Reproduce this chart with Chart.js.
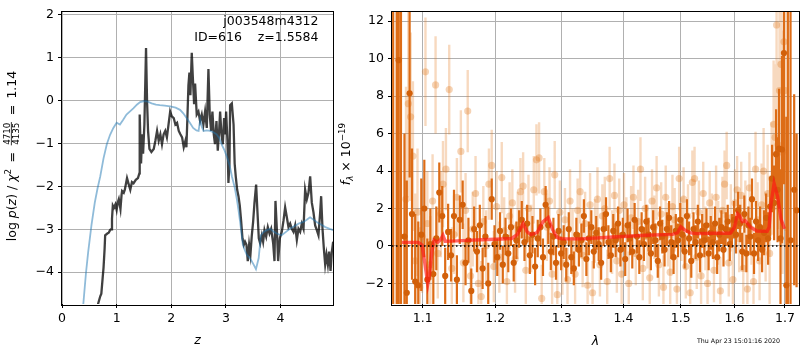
<!DOCTYPE html>
<html>
<head>
<meta charset="utf-8">
<script src="https://cdn.jsdelivr.net/npm/chart.js@4.4.1/dist/chart.umd.min.js"></script>
<style>
  body { margin: 0; background: #fff; }
  #wrap { position: relative; width: 800px; height: 350px; }
  #wrap canvas { position: absolute; left: 0; top: 0; }
</style>
</head>
<body>
<div id="wrap">
  <canvas id="pz" width="800" height="350"></canvas>
  <canvas id="spec" width="800" height="350"></canvas>
</div>
<script>
// ---- redshift probability, left panel ----
const PZ_Z = [0.62, 0.66, 0.70, 0.72, 0.745, 0.76, 0.78, 0.79, 0.83, 0.855, 0.88, 0.90, 0.915, 0.93, 0.95, 0.977,
  1.00, 1.02, 1.04, 1.07, 1.09, 1.10, 1.13, 1.15, 1.19, 1.22, 1.25, 1.28, 1.31, 1.35, 1.39, 1.416, 1.422, 1.447,
  1.465, 1.484, 1.508, 1.538, 1.557, 1.575, 1.60, 1.636, 1.679, 1.709, 1.74, 1.77, 1.80, 1.83, 1.86, 1.89, 1.92,
  1.95, 1.98, 2.01, 2.045, 2.075, 2.106, 2.137, 2.167, 2.198, 2.228, 2.259, 2.277, 2.295, 2.314, 2.332, 2.35,
  2.375, 2.393, 2.418, 2.436, 2.466, 2.497, 2.527, 2.558, 2.588, 2.619, 2.65, 2.68, 2.704, 2.729, 2.753, 2.778,
  2.80, 2.827, 2.851, 2.876, 2.894, 2.918, 2.943, 2.967, 2.986, 3.004, 3.028, 3.046, 3.065, 3.077, 3.108, 3.14,
  3.16, 3.18, 3.206, 3.23, 3.254, 3.28, 3.303, 3.328, 3.35, 3.376, 3.40, 3.425, 3.449, 3.474, 3.498, 3.523,
  3.553, 3.578, 3.602, 3.627, 3.657, 3.681, 3.706, 3.737, 3.767, 3.798, 3.828, 3.865, 3.889, 3.907, 3.932,
  3.956, 3.987, 4.023, 4.054, 4.084, 4.115, 4.145, 4.176, 4.206, 4.237, 4.267, 4.298, 4.328, 4.359, 4.389,
  4.42, 4.45, 4.481, 4.511, 4.542, 4.572, 4.603, 4.633, 4.664, 4.694, 4.725, 4.743, 4.768, 4.792, 4.817,
  4.841, 4.866, 4.89, 4.915, 4.939, 4.963, 4.99];
const PZ_LOGP = [-5.4, -4.74, -4.56, -4.50, -4.12, -3.90, -3.45, -3.14, -3.10, -3.08, -3.02, -3.00, -2.76, -2.45, -2.50, -2.42,
  -2.55, -2.38, -2.30, -2.53, -2.20, -2.11, -2.15, -2.08, -1.81, -1.95, -2.08, -1.90, -1.93, -1.85, -1.81, -1.70, -0.33, -1.47,
  -0.79, -1.24, -0.56, 1.22, -0.03, -0.71, -1.13, -1.20, -1.13, -0.94, -0.71, -0.94, -0.79, -1.02, -0.79, -0.71, -0.86,
  -0.56, -0.26, -0.37, -0.41, -0.56, -0.52, -0.71, -0.79, -0.86, -1.09, -0.94, -1.09, -0.41, 0.35, 0.65, 0.12,
  1.11, 0.58, -0.09, 0.39, -0.33, -0.26, -0.48, -0.33, -0.56, -0.26, -0.64, 0.73, -0.33, -0.71, -0.26, -0.79,
  -1.02, -0.48, -1.17, -0.71, -0.26, -0.79, -1.02, -0.41, -0.79, -0.26, -0.94, -1.92, -1.47, -0.11, -0.07, -0.56,
  -1.47, -1.77, -2.08, -2.23, -2.45, -2.83, -3.21, -3.36, -3.29, -3.36, -3.74, -3.36, -3.59, -3.14, -2.83, -2.38,
  -1.96, -2.61, -3.21, -3.33, -3.14, -3.29, -3.02, -3.17, -2.95, -3.10, -2.99, -3.33, -3.74, -2.34, -2.99,
  -3.74, -3.21, -3.06, -2.80, -2.49, -2.72, -2.95, -2.87, -2.99, -3.06, -2.91, -3.25, -2.99, -3.06, -2.87,
  -2.99, -2.08, -2.30, -2.15, -1.77, -2.38, -2.61, -2.91, -3.02, -3.14, -2.61, -2.23, -2.99, -3.44, -3.82,
  -3.59, -3.82, -3.52, -3.97, -3.52, -3.29, -3.21];

const SMOOTH_Z = [0.36, 0.39, 0.44, 0.48, 0.54, 0.60, 0.65, 0.70, 0.76, 0.82, 0.88, 0.94, 1.00, 1.06, 1.12, 1.18, 1.25,
  1.31, 1.37, 1.43, 1.49, 1.55, 1.64, 1.72, 1.79, 1.88, 1.98, 2.08, 2.16, 2.22, 2.28, 2.34, 2.40, 2.46, 2.50, 2.53,
  2.56, 2.59, 2.65, 2.71, 2.77, 2.83, 2.88, 2.92, 2.97, 3.02, 3.07, 3.11, 3.16, 3.20, 3.23, 3.26, 3.29, 3.31, 3.35,
  3.38, 3.43, 3.47, 3.51, 3.55, 3.60, 3.64, 3.69, 3.75, 3.81, 3.87, 3.93, 4.02, 4.10, 4.17, 4.25, 4.33, 4.42, 4.48,
  4.54, 4.60, 4.66, 4.74, 4.82, 4.90, 4.97];
const SMOOTH_LOGP = [-5.3, -4.74, -4.0, -3.52, -2.9, -2.38, -2.05, -1.77, -1.35, -1.02, -0.80, -0.64, -0.52, -0.56, -0.45,
  -0.33, -0.25, -0.18, -0.10, -0.04, -0.02, -0.02, -0.07, -0.10, -0.11, -0.12, -0.14, -0.17, -0.22, -0.30, -0.41, -0.52,
  -0.64, -0.70, -0.71, -0.44, -0.62, -0.71, -0.70, -0.71, -0.74, -0.79, -0.88, -1.02, -1.15, -1.32, -1.52, -1.77, -2.02,
  -2.30, -2.55, -2.83, -3.15, -3.36, -3.50, -3.59, -3.66, -3.74, -3.83, -3.93, -3.67, -3.14, -3.06, -3.02, -2.99, -3.05,
  -3.10, -3.14, -3.06, -2.99, -2.93, -2.87, -2.83, -2.78, -2.72, -2.77, -2.83, -2.89, -2.95, -2.99, -3.02];

const Z_TICKS = [0, 1, 2, 3, 4];
const LOGP_TICKS = [-4, -3, -2, -1, 0, 1, 2];

// ---- 1D spectrum, right panel ----
const BIN_WAVE = [1.0615, 1.066, 1.0685, 1.0715, 1.076, 1.079, 1.0827, 1.0858,
  1.090, 1.094, 1.098, 1.102, 1.106, 1.110, 1.114, 1.118, 1.122, 1.126, 1.130, 1.134, 1.138, 1.142, 1.146, 1.150,
  1.154, 1.158, 1.162, 1.166, 1.170, 1.174, 1.178, 1.182, 1.186, 1.190, 1.195, 1.199, 1.203, 1.207, 1.211, 1.215,
  1.219, 1.223, 1.227, 1.231, 1.235, 1.239, 1.243, 1.247, 1.251, 1.255, 1.259, 1.263, 1.267, 1.271, 1.275, 1.279,
  1.283, 1.287, 1.291, 1.295, 1.299, 1.303, 1.307, 1.311, 1.315, 1.319, 1.323, 1.327, 1.331, 1.335, 1.339, 1.343,
  1.347, 1.351, 1.355, 1.359, 1.363, 1.367, 1.371, 1.375, 1.379, 1.383, 1.387, 1.391, 1.395, 1.399, 1.403, 1.407,
  1.411, 1.415, 1.419, 1.423, 1.427, 1.431, 1.435, 1.439, 1.443, 1.447, 1.451, 1.455, 1.459, 1.463, 1.467, 1.471,
  1.475, 1.479, 1.483, 1.487, 1.491, 1.495, 1.499, 1.503, 1.507, 1.511, 1.515, 1.519, 1.523, 1.527, 1.531, 1.535,
  1.539, 1.543, 1.547, 1.551, 1.555, 1.559, 1.563, 1.567, 1.571, 1.575, 1.579, 1.583, 1.587, 1.591, 1.595, 1.599,
  1.603, 1.607, 1.611, 1.615, 1.619, 1.623, 1.627, 1.631, 1.634, 1.638, 1.642, 1.646, 1.650, 1.654, 1.658, 1.662,
  1.666, 1.670, 1.674, 1.678, 1.682, 1.685, 1.688, 1.691, 1.694, 1.698, 1.703,
  1.706, 1.7115, 1.719, 1.724];
const BIN_FLUX = [14, -6, 9.92, -7, 0.5, -2.5, 8.15, 1.7,
  -1.9, -2.1, 0.6, 2.0, -1.8, 0.1, -1.5, 0.4, 2.85, 1.6, -1.6, 0.75, -0.5, 1.6, -1.8, 1.4,
  2.2, -0.9, 0.3, -2.4, 0.9, -0.3, 1.1, -1.2, 0.5, -2.0, 2.5, 0.1, -0.6, 0.8, -1.0, 0.5,
  -0.4, 1.0, -0.9, 0.3, 0.9, 1.4, 0.2, 1.2, -0.5, 0.6, -1.1, 0.4, 1.0, -0.6, 2.2, 1.1,
  -0.3, 0.5, -0.9, 0.8, -0.4, 0.2, -1.0, 0.9, -0.6, -1.2, 0.6, -0.2, 0.3, 1.6, -0.7, 0.4,
  1.0, -0.3, 0.7, 0.1, -0.9, 0.9, 1.7, 0.2, -0.5, 0.8, 0.3, 1.2, -0.2, 0.6, -0.7, 1.1,
  0.4, -0.3, 1.4, 0.5, -0.6, 0.9, 0.1, 1.3, 0.6, -0.4, 1.0, 0.3, -0.8, 1.2, 0.5, -0.2,
  0.9, 1.5, 0.2, -0.6, 0.8, 0.3, 1.4, 0.6, -0.3, 1.6, 0.4, -0.8, 0.9, 0.2, 1.3, -0.5,
  0.8, 0.3, 1.1, -0.4, 0.7, 0.2, 1.2, -0.6, 0.6, 1.0, -0.2, 0.9, 1.3, 0.1, 0.8, 1.4,
  0.6, 1.9, 1.2, -0.3, 1.7, -0.4, 1.1, 0.5, 2.5, -0.4, 1.3, 0.3, 1.0, -0.2, 0.7, 1.5,
  0.4, 2.1, 3.6, 2.3, 4.9, 3.0, 5.2, 0.4, 5.15, 10.3, -2.1,
  15, 0.3, 3.0, 1.9];
const BIN_ERR = [20, 20, 20, 20, 5.5, 6, 4.5, 3.5,
  3.6, 3.4, 3.0, 2.6, 2.2, 1.9, 1.8, 1.7, 1.6, 1.6, 1.5, 1.5, 1.4, 1.4, 1.3, 1.3,
  1.3, 1.2, 1.2, 1.2, 1.2, 1.1, 1.1, 1.1, 1.1, 1.1, 1.1, 1.0, 1.0, 1.0, 1.0, 1.0,
  1.0, 1.0, 1.0, 1.0, 1.0, 1.0, 1.0, 1.0, 1.0, 1.0, 1.0, 1.0, 1.0, 1.0, 1.0, 1.0,
  1.0, 1.0, 0.9, 0.9, 0.9, 0.9, 0.9, 0.9, 0.9, 0.9, 0.9, 0.9, 0.9, 0.9, 0.9, 0.9,
  0.9, 0.9, 0.9, 0.9, 0.9, 0.9, 0.9, 0.9, 0.9, 0.9, 0.9, 0.9, 0.9, 0.9, 0.9, 0.9,
  0.9, 0.9, 0.9, 0.9, 0.9, 0.9, 0.9, 0.9, 0.9, 0.9, 0.9, 0.9, 0.9, 0.9, 0.9, 0.9,
  0.9, 0.9, 0.9, 0.9, 0.9, 0.9, 0.9, 0.9, 0.9, 0.9, 0.9, 0.9, 0.9, 0.9, 0.9, 0.9,
  0.9, 0.9, 0.9, 0.9, 0.9, 0.9, 0.9, 0.9, 0.9, 0.9, 0.9, 0.9, 0.9, 0.9, 0.9, 1.0,
  1.0, 1.0, 1.0, 1.0, 1.0, 1.0, 1.0, 1.0, 1.1, 1.1, 1.1, 1.1, 1.1, 1.2, 1.2, 1.3,
  1.4, 1.6, 1.8, 2.0, 2.4, 2.8, 3.2, 3.7, 5, 7, 9,
  30, 15, 5.1, 4.1];

const RAW_WAVE = [1.078, 1.081, 1.084, 1.087, 1.090, 1.093, 1.096, 1.099, 1.1035, 1.106, 1.110, 1.113, 1.117, 1.120,
  1.124, 1.127, 1.131, 1.1355, 1.139, 1.142, 1.146, 1.1515, 1.155, 1.158, 1.161, 1.165, 1.168, 1.172, 1.176, 1.180,
  1.183, 1.187, 1.191, 1.195, 1.198, 1.202, 1.206, 1.2095, 1.213, 1.217, 1.221, 1.225, 1.229, 1.233, 1.237, 1.241,
  1.245, 1.249, 1.253, 1.257, 1.261, 1.265, 1.269, 1.273, 1.277, 1.281, 1.285, 1.289, 1.293, 1.297, 1.301, 1.305,
  1.309, 1.313, 1.317, 1.321, 1.325, 1.329, 1.333, 1.337, 1.341, 1.345, 1.349, 1.353, 1.357, 1.361, 1.365, 1.369,
  1.373, 1.377, 1.381, 1.385, 1.389, 1.393, 1.397, 1.401, 1.405, 1.409, 1.413, 1.417, 1.421, 1.425, 1.429, 1.433,
  1.437, 1.441, 1.445, 1.449, 1.453, 1.457, 1.461, 1.465, 1.469, 1.473, 1.477, 1.481, 1.485, 1.489, 1.493, 1.497,
  1.501, 1.505, 1.509, 1.513, 1.517, 1.521, 1.525, 1.529, 1.533, 1.537, 1.541, 1.545, 1.549, 1.553, 1.557, 1.561,
  1.565, 1.569, 1.573, 1.577, 1.581, 1.585, 1.589, 1.593, 1.597, 1.601, 1.605, 1.609, 1.613, 1.617, 1.621, 1.625,
  1.629, 1.633, 1.637, 1.641, 1.645, 1.649, 1.653, 1.657, 1.661, 1.665, 1.669, 1.673, 1.677, 1.680, 1.683, 1.686,
  1.689, 1.692, 1.695, 1.698, 1.701];
const RAW_FLUX = [2.5, 7.6, 6.9, 4.8, -0.8, 1.8, -2.2, 0.5, 9.3, 1.2, -1.0, 2.4, 8.6, -0.4,
  1.7, 3.3, 4.1, 8.35, -1.2, 0.6, 2.6, 5.05, -0.9, 1.9, 7.2, -1.6, 0.9, 2.8, -2.0, -2.7,
  1.3, 0.0, 3.3, 4.3, -1.1, 2.1, -0.6, 3.65, 0.8, -1.9, 1.6, 2.3, -0.7, 1.1, 2.9, 3.2,
  -1.3, 2.0, 0.4, 3.0, 4.6, 4.7, -2.8, 2.9, 1.0, 2.4, -1.5, 3.8, -2.6, 1.8, -0.9, 1.4,
  -1.8, 2.4, 0.3, -1.5, 1.9, 2.9, -0.5, 1.2, -2.1, 2.2, -2.5, 0.8, 2.5, -1.0, 1.6, 2.0,
  -1.9, 3.6, 0.2, 2.7, -0.8, 1.9, -1.5, 2.2, 0.9, -2.0, 1.5, 2.6, -0.4, 1.3, 4.1, -1.2,
  2.0, 0.5, -1.7, 2.4, 1.0, 3.1, -1.0, 1.7, -2.2, 2.6, 0.6, -1.4, 2.1, 1.4, -2.3, 3.6,
  0.9, 2.5, -1.1, 1.6, -2.5, 3.4, 3.6, -0.6, 1.8, -1.6, 2.8, 0.4, -2.0, 2.3, 1.1, -1.3,
  2.6, 0.7, -2.4, 1.9, 3.3, 4.3, -0.9, 1.5, -1.8, 2.3, 3.0, 0.4, 2.7, -1.2, 1.6, -2.3,
  3.1, 0.9, -1.9, 4.1, 1.4, -0.8, 2.2, 4.0, 0.5, 2.8, -0.4, 3.6, 6.5, 5.8, 11.8, 5.4,
  8.3, 9.7, 5.0, 10.9, 8.3];
const RAW_ERR = [6, 5, 4.5, 4, 3.6, 3.4, 3.2, 3.0, 2.9, 2.8, 2.6, 2.5, 2.6, 2.4,
  2.3, 2.3, 2.2, 2.4, 2.2, 2.1, 2.1, 2.2, 2.1, 2.0, 2.2, 2.0, 2.0, 2.0, 2.0, 1.9,
  1.9, 1.9, 1.9, 1.9, 1.9, 1.9, 1.9, 1.9, 1.8, 1.8, 1.8, 1.8, 1.8, 1.8, 1.8, 1.8,
  1.8, 1.8, 1.8, 1.8, 1.9, 1.9, 1.8, 1.8, 1.8, 1.8, 1.7, 1.8, 1.7, 1.7, 1.7, 1.7,
  1.7, 1.7, 1.7, 1.7, 1.7, 1.7, 1.7, 1.7, 1.7, 1.7, 1.7, 1.7, 1.7, 1.7, 1.7, 1.7,
  1.7, 1.7, 1.7, 1.7, 1.7, 1.7, 1.7, 1.7, 1.7, 1.7, 1.7, 1.7, 1.7, 1.7, 1.7, 1.7,
  1.7, 1.7, 1.7, 1.7, 1.7, 1.7, 1.7, 1.7, 1.7, 1.7, 1.7, 1.7, 1.7, 1.7, 1.7, 1.7,
  1.7, 1.7, 1.7, 1.7, 1.7, 1.7, 1.7, 1.7, 1.7, 1.7, 1.7, 1.7, 1.7, 1.7, 1.7, 1.7,
  1.7, 1.7, 1.8, 1.8, 1.8, 1.8, 1.8, 1.8, 1.8, 1.8, 1.8, 1.8, 1.8, 1.9, 1.9, 1.9,
  1.9, 1.9, 1.9, 2.0, 2.0, 2.1, 2.2, 2.3, 2.4, 2.6, 2.8, 3.0, 3.4, 3.9, 4.5, 4.5,
  5.5, 5.5, 6.5, 6.5, 7.5];

const MODEL_WAVE = [1.0726, 1.080, 1.094, 1.099, 1.103, 1.1066, 1.109, 1.112, 1.115, 1.120, 1.124, 1.127, 1.130,
  1.140, 1.160, 1.180, 1.200, 1.224, 1.232, 1.241, 1.247, 1.253, 1.262, 1.271, 1.279, 1.286, 1.293, 1.300, 1.330,
  1.383, 1.439, 1.485, 1.494, 1.500, 1.507, 1.517, 1.530, 1.560, 1.592, 1.600, 1.606, 1.610, 1.615, 1.621, 1.631,
  1.644, 1.664, 1.668, 1.672, 1.678, 1.685, 1.692, 1.699];
const MODEL_FLUX = [0.19, 0.19, 0.19, 0.05, -1.0, -2.03, -1.5, -0.3, 0.31, 0.20, 0.35, 0.57, 0.25,
  0.26, 0.30, 0.33, 0.36, 0.40, 0.60, 1.20, 0.75, 0.60, 0.72, 1.30, 1.52, 0.85, 0.45, 0.38, 0.38,
  0.48, 0.57, 0.62, 0.70, 1.02, 0.85, 0.70, 0.66, 0.68, 0.68, 1.0, 1.72, 1.60, 1.30, 1.35, 1.00,
  0.80, 0.78, 1.0, 2.3, 3.34, 2.65, 1.44, 0.91];

const WAVE_TICKS = [1.1, 1.2, 1.3, 1.4, 1.5, 1.6, 1.7];
const FLUX_TICKS = [-2, 0, 2, 4, 6, 8, 10, 12];

// ---- helpers ----
const FAMILY = '"DejaVu Sans"';
const N12 = `12.5px ${FAMILY}`;
const I12 = `italic 12.5px ${FAMILY}`;
const S9 = `8.75px ${FAMILY}`;
const SI9 = `italic 8.75px ${FAMILY}`;

const pts = (xs, ys) => xs.map((x, i) => ({ x, y: ys[i] }));
const errSegments = (xs, ys, es) =>
  xs.flatMap((x, i) => [{ x, y: ys[i] - es[i] }, { x, y: ys[i] + es[i] }, { x, y: null }]);
const minus = v => String(v).replace("-", "\u2212");

function axis(opts) {
  return Object.assign({
    bounds: "data",
    afterBuildTicks: s => { s.ticks = opts.list.map(v => ({ value: v })); },
    grid: { color: "#b0b0b0", lineWidth: 1, tickColor: "#000", tickLength: 4, tickWidth: 1 },
    border: { display: false },
    ticks: { color: "#000", font: { family: "DejaVu Sans", size: 12.5 }, padding: opts.pad, autoSkip: false, maxRotation: 0,
      callback: opts.fmt || (v => minus(v)) },
  }, opts.extra);
}

// black box round the plotting area
const frame = {
  id: "frame",
  afterDatasetsDraw(chart) {
    const { ctx, chartArea: a } = chart;
    ctx.save();
    ctx.strokeStyle = "#000";
    ctx.lineWidth = 1;
    ctx.strokeRect(Math.round(a.left) - 0.5, Math.round(a.top) - 0.5,
      Math.round(a.right - a.left) + 1, Math.round(a.bottom - a.top) + 1);
    ctx.restore();
  }
};

// text made of runs with different fonts, optional rotation
function drawRuns(ctx, runs, x, y, rotate) {
  let total = 0;
  runs.forEach(r => {
    ctx.font = r.font;
    r.w = r.frac
      ? Math.max(ctx.measureText(r.frac[0]).width, ctx.measureText(r.frac[1]).width) + 2
      : ctx.measureText(r.text).width;
    total += r.w;
  });
  ctx.save();
  ctx.translate(x, y);
  if (rotate) ctx.rotate(-Math.PI / 2);
  ctx.fillStyle = "#000";
  ctx.textBaseline = "alphabetic";
  let cur = -total / 2;
  runs.forEach(r => {
    ctx.font = r.font;
    if (r.frac) {
      ctx.textAlign = "center";
      ctx.fillText(r.frac[0], cur + r.w / 2, -5.8);
      ctx.fillText(r.frac[1], cur + r.w / 2, 3.2);
      ctx.fillRect(cur + 0.5, -4.6, r.w - 1, 0.8);
    } else {
      ctx.textAlign = "left";
      ctx.fillText(r.text, cur, r.dy || 0);
    }
    cur += r.w;
  });
  ctx.restore();
}

const labels = {
  id: "labels",
  afterDraw(chart) {
    const ctx = chart.ctx;
    drawRuns(ctx, [
      { text: "log ", font: N12 }, { text: "p", font: I12 }, { text: "(", font: N12 }, { text: "z", font: I12 },
      { text: ")", font: N12 }, { text: " / ", font: N12 }, { text: "\u03c7", font: I12 },
      { text: "2", font: S9, dy: -5 }, { text: "\u2002=\u2002", font: N12 }, { frac: ["4710", "4135"], font: S9 },
      { text: "\u2002=\u20021.14", font: N12 }
    ], 15.5, 156, true);
    drawRuns(ctx, [
      { text: "f", font: I12 }, { text: "\u03bb", font: SI9, dy: 2.5 }, { text: " \u00d7 10", font: N12 },
      { text: "\u221219", font: S9, dy: -5.5 }
    ], 350, 154, true);

    ctx.save();
    ctx.fillStyle = "#000";
    ctx.font = I12;
    ctx.textAlign = "center";
    ctx.fillText("z", 197.5, 344);
    ctx.fillText("\u03bb", 595.5, 345);
    ctx.font = N12;
    ctx.textAlign = "right";
    ctx.fillText("j003548m4312", 318.5, 24.5);
    ctx.fillText("ID=616    z=1.5584", 318.5, 40.5);
    ctx.font = `6.3px ${FAMILY}`;
    ctx.textAlign = "left";
    ctx.fillText("Thu Apr 23 15:01:16 2020", 697, 342.5);
    ctx.restore();
  }
};

// dotted zero level across the spectrum panel
const zeroLine = {
  id: "zeroLine",
  afterDatasetsDraw(chart) {
    const { ctx, chartArea: a } = chart;
    const y = chart.scales.y.getPixelForValue(0);
    ctx.save();
    ctx.strokeStyle = "#000";
    ctx.lineWidth = 1.5;
    ctx.setLineDash([1.5, 2.5]);
    ctx.beginPath();
    ctx.moveTo(a.left, y);
    ctx.lineTo(a.right, y);
    ctx.stroke();
    ctx.restore();
  }
};

const common = {
  animation: false,
  responsive: false,
  events: [],
  plugins: { legend: { display: false }, tooltip: { enabled: false } },
};

new Chart(document.getElementById("pz"), {
  type: "line",
  data: {
    datasets: [
      { data: pts(SMOOTH_Z, SMOOTH_LOGP), borderColor: "rgba(31,119,180,0.5)", borderWidth: 1.8, pointRadius: 0, order: 0 },
      { data: pts(PZ_Z, PZ_LOGP), borderColor: "rgba(0,0,0,0.75)", borderWidth: 2.3, pointRadius: 0, order: 1 },
    ]
  },
  options: {
    ...common,
    layout: { padding: { top: 4, right: 467, left: 0, bottom: 0 }, autoPadding: false },
    scales: {
      x: axis({ list: Z_TICKS, pad: 3, extra: { type: "linear", min: 0, max: 4.96, afterFit: s => { s.height = 46; } } }),
      y: axis({ list: LOGP_TICKS, pad: 4, extra: { type: "linear", min: -4.74, max: 2.07, afterFit: s => { s.width = 62; } } }),
    }
  },
  plugins: [frame, labels]
});

new Chart(document.getElementById("spec"), {
  type: "line",
  data: {
    datasets: [
      { data: pts(MODEL_WAVE, MODEL_FLUX), borderColor: "rgba(255,20,20,0.65)", borderWidth: 3.4, pointRadius: 0, order: 0 },
      { data: pts(BIN_WAVE, BIN_FLUX), showLine: false, pointRadius: 3.1, pointBorderWidth: 0,
        pointBackgroundColor: "#d2600a", order: 1 },
      { data: errSegments(BIN_WAVE, BIN_FLUX, BIN_ERR), borderColor: "#dd6c16", borderWidth: 2.2,
        pointRadius: 0, spanGaps: false, order: 2 },
      { data: pts(RAW_WAVE, RAW_FLUX), showLine: false, pointRadius: 3.6, pointBorderWidth: 0,
        pointBackgroundColor: "rgba(225,118,25,0.32)", order: 3 },
      { data: errSegments(RAW_WAVE, RAW_FLUX, RAW_ERR), borderColor: "rgba(225,118,25,0.28)", borderWidth: 2.4,
        pointRadius: 0, spanGaps: false, order: 4 },
    ]
  },
  options: {
    ...common,
    layout: { padding: { top: 3.5, right: 1, left: 0, bottom: 0 }, autoPadding: false },
    scales: {
      x: axis({ list: WAVE_TICKS, pad: 3, fmt: v => v.toFixed(1),
        extra: { type: "logarithmic", min: 1.06, max: 1.729, afterFit: s => { s.height = 46; } } }),
      y: axis({ list: FLUX_TICKS, pad: 4, extra: { type: "linear", min: -3.1, max: 12.52, afterFit: s => { s.width = 392; } } }),
    }
  },
  plugins: [zeroLine, frame]
});
</script>
</body>
</html>
